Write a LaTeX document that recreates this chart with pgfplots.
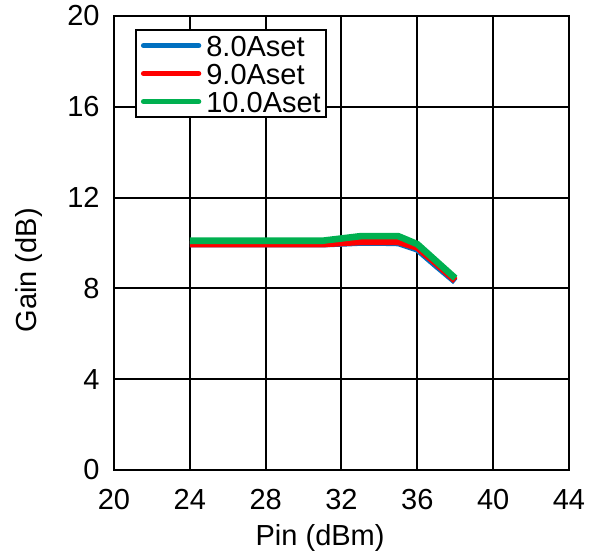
\documentclass[border=0pt]{standalone}
\usepackage{fontspec}
\setmainfont{Liberation Sans}
\usepackage{pgfplots}
\pgfplotsset{compat=1.18}
\definecolor{sblue}{RGB}{0,112,192}
\definecolor{sred}{RGB}{255,0,0}
\definecolor{sgreen}{RGB}{0,176,80}
\begin{document}
\fontsize{14.5}{15}\selectfont
\begin{tikzpicture}
\begin{axis}[
  scale only axis, width=227.5pt, height=227pt,
  xmin=20, xmax=44, ymin=0, ymax=20,
  xtick={20,24,...,44}, ytick={0,4,...,20},
  grid=major, major grid style={black, line width=1pt},
  axis line style={black, line width=1pt},
  major tick length=0pt,
  tick label style={font=\fontsize{14.5}{15}\selectfont},
  /pgf/number format/assume math mode=true,
  xticklabel style={yshift=-4.7pt},
  yticklabel style={xshift=-2.2pt},
  xlabel={Pin (dBm)},
  ylabel={Gain (dB)},
  label style={font=\fontsize{14.5}{15}\selectfont},
  xlabel style={at={(axis description cs:0.453,0)}, anchor=center, yshift=-34pt},
  ylabel style={at={(axis description cs:-0.187,0.44)}, anchor=center},
  legend cell align=left,
  legend style={at={(axis description cs:0.046,0.971)}, anchor=north west,
    draw=black, line width=1pt, inner sep=2.5pt, row sep=3.5pt, column sep=2.5pt,
    font=\fontsize{14.5}{15}\selectfont,
    nodes={inner sep=0pt, text height=10.5pt, text depth=0pt}},
  legend image code/.code={\draw[#1, line width=2.7pt, line cap=round] (0pt,0pt) -- (27.5pt,0pt);},
]
\addplot[sblue, line width=3.3pt, line join=round] coordinates {
(24,9.95)(25,9.95)(26,9.95)(27,9.95)(28,9.95)(29,9.95)(30,9.95)(31,9.95)
(32,9.98)(33,10.02)(34,10.02)(35,10.0)(36,9.72)(37,9.0)(38,8.3)};
\addlegendentry{8.0Aset}
\addplot[sred, line width=3.3pt, line join=round] coordinates {
(24,9.95)(25,9.95)(26,9.95)(27,9.95)(28,9.95)(29,9.95)(30,9.95)(31,9.95)
(32,10.0)(33,10.05)(34,10.05)(35,10.05)(36,9.8)(37,9.1)(38,8.35)};
\addlegendentry{9.0Aset}
\addplot[sgreen, line width=3.3pt, line join=round] coordinates {
(24,10.1)(25,10.1)(26,10.1)(27,10.1)(28,10.1)(29,10.1)(30,10.1)(31,10.1)
(32,10.2)(33,10.3)(34,10.3)(35,10.3)(36,9.95)(37,9.2)(38,8.45)};
\addlegendentry{10.0Aset}
\end{axis}
\pgfresetboundingbox
\path[use as bounding box] ([shift={(-57pt,-43.5pt)}]current axis.south west) rectangle ++(297.5pt,278.5pt);
\end{tikzpicture}
\end{document}
